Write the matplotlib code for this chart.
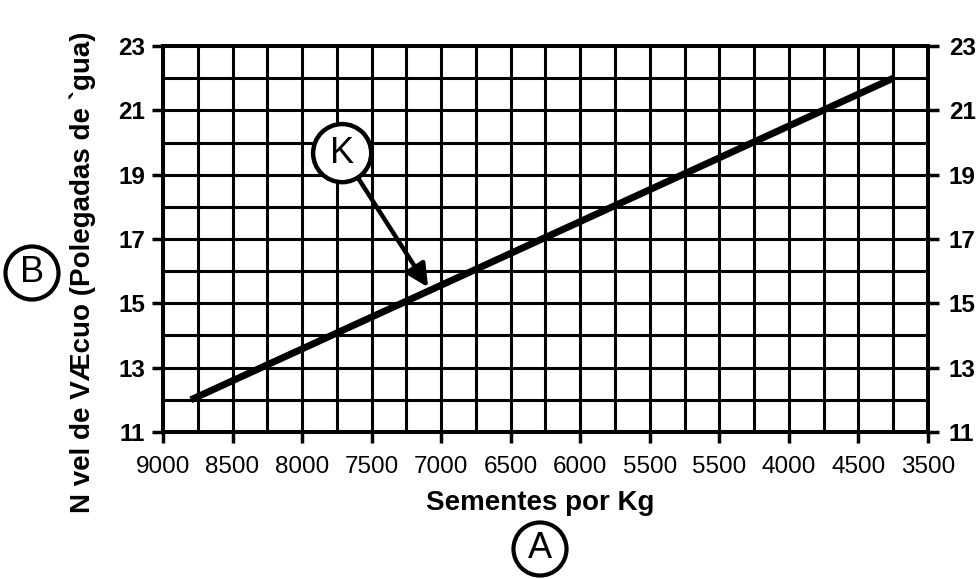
import matplotlib
matplotlib.use('Agg')
import matplotlib.pyplot as plt
import numpy as np

plt.rcParams['font.family'] = ['Liberation Sans', 'DejaVu Sans']

# dados do grafico
sementes = [8800, 3750]
vacuo = [12, 22]
x_ticks = [9000, 8500, 8000, 7500, 7000, 6500, 6000, 5500, 5000, 4500, 4000, 3500]
x_labels = ['9000', '8500', '8000', '7500', '7000', '6500', '6000', '5500', '5500', '4000', '4500', '3500']
y_ticks = [11, 13, 15, 17, 19, 21, 23]
y_labels = [str(v) for v in y_ticks]

fig = plt.figure(figsize=(9.79, 5.79), dpi=100)
ax = fig.add_axes([163/979, 1-432/579, (928-163)/979, (432-46)/579])

ax.set_xlim(9000, 3500)
ax.set_ylim(11, 23)
ax.set_xticks(x_ticks)
ax.set_xticklabels(x_labels, fontsize=17.5)
ax.set_xticks(np.arange(3500, 9001, 250), minor=True)
ax.set_yticks(y_ticks)
ax.set_yticks(range(11, 24), minor=True)
ax.set_yticklabels(y_labels, fontsize=17.5, fontweight='bold')

ax.grid(True, which='both', color='black', linewidth=2.2)
ax.set_axisbelow(True)
ax.tick_params(which='major', length=8, width=2.5, direction='out')
ax.tick_params(axis='x', pad=9)
ax.tick_params(axis='y', pad=5)
ax.tick_params(which='minor', length=0)
for s in ax.spines.values():
    s.set_linewidth(2.8)

# eixo da direita
ax2 = ax.twinx()
ax2.set_ylim(11, 23)
ax2.set_yticks(y_ticks)
ax2.set_yticklabels(y_labels, fontsize=17.5, fontweight='bold')
ax2.tick_params(length=8, width=2.5, pad=7)
for s in ax2.spines.values():
    s.set_linewidth(2.8)

ax.plot(sementes, vacuo, color='black', linewidth=5, solid_capstyle='butt')

ax.set_xlabel('Sementes por Kg', fontsize=20, fontweight='bold', va='top')
ax.xaxis.set_label_coords(0.493, -0.15)
ax.set_ylabel('N vel de VÆcuo (Polegadas de `gua)', fontsize=20, fontweight='bold')
ax.yaxis.set_label_coords(-0.088, 0.415)

circ = dict(boxstyle='circle,pad=0.25', fc='white', ec='black', lw=3)
circ_k = dict(boxstyle='circle,pad=0.32', fc='white', ec='black', lw=3.2)
ax.annotate('K', xy=(7094, 15.5), xytext=(7712, 19.67), fontsize=26,
            ha='center', va='center', bbox=circ_k,
            arrowprops=dict(arrowstyle='-|>', color='black', lw=3.2,
                            mutation_scale=34, shrinkA=0, shrinkB=0))
fig.text(32/979, 1-273/579, 'B', fontsize=26, ha='center', va='center', bbox=circ)
fig.text(540/979, 1-549/579, 'A', fontsize=26, ha='center', va='center', bbox=circ)

plt.savefig('out.png', dpi=100)
